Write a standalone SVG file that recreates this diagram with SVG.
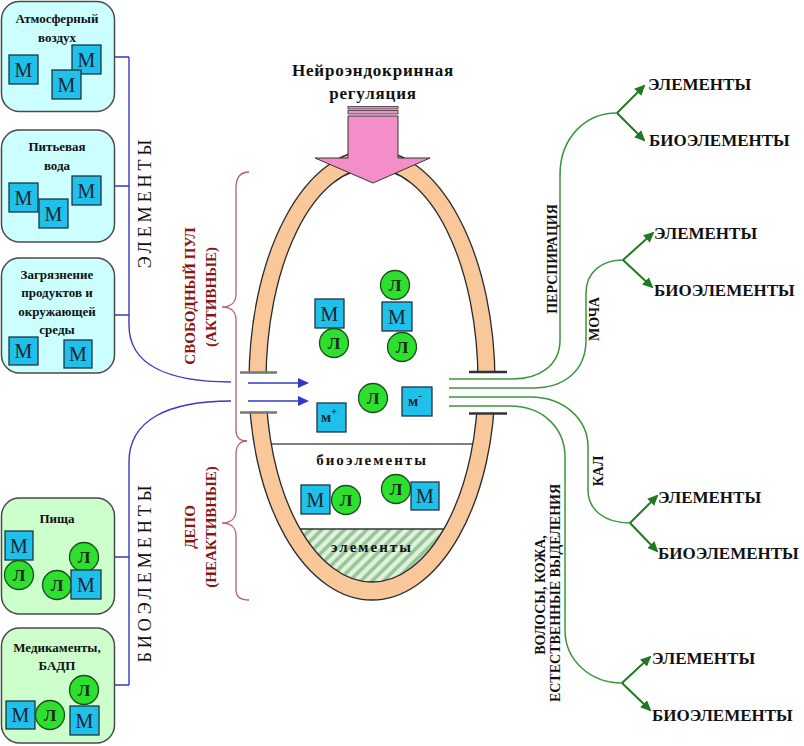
<svg xmlns="http://www.w3.org/2000/svg" width="804" height="746" viewBox="0 0 804 746">
<defs>
<style>
text{font-family:"Liberation Serif","DejaVu Serif","Noto Serif",Georgia,serif}
.box1{fill:#ccffff;stroke:#4a4a4a;stroke-width:1.5}
.box2{fill:#ccffcc;stroke:#4a4a4a;stroke-width:1.5}
.bt{font-weight:bold;font-size:13px;fill:#111;text-anchor:middle;dominant-baseline:central}
.sq{fill:#1fc0ea;stroke:#23343f;stroke-width:1.3}
.ci{fill:#2ee02e;stroke:#1d4d1d;stroke-width:1.3}
.mt{font-size:20px;fill:#1a2533;text-anchor:middle;dominant-baseline:central}
.lt{font-weight:bold;font-size:17px;fill:#1a2a1a;text-anchor:middle;dominant-baseline:central}
.blue{fill:none;stroke:#3636c8;stroke-width:1.4}
.barr{fill:none;stroke:#3636c8;stroke-width:1.6;marker-end:url(#ba)}
.green{fill:none;stroke:#3c963c;stroke-width:1.5}
.garr{fill:none;stroke:#1f7a1f;stroke-width:2;marker-end:url(#ga)}
.brace{fill:none;stroke:#b06272;stroke-width:1.3}
.red{font-weight:bold;font-size:15px;fill:#8b1414;text-anchor:middle;dominant-baseline:central}
.rl{font-weight:bold;font-size:17px;fill:#111;dominant-baseline:central}
.vl{font-size:18px;fill:#111;text-anchor:middle;dominant-baseline:central;letter-spacing:4px}
.gl{font-weight:bold;font-size:14px;fill:#111;text-anchor:middle;dominant-baseline:central}
.ct{font-weight:bold;font-size:15px;fill:#111;text-anchor:middle;dominant-baseline:central;letter-spacing:2px}
.bar{stroke-width:2.5;fill:none}
</style>
<marker id="ga" markerUnits="userSpaceOnUse" markerWidth="11" markerHeight="10" refX="9" refY="5" orient="auto">
<path d="M0,0 L11,5 L0,10 Z" fill="#1f7a1f"/>
</marker>
<marker id="ba" markerUnits="userSpaceOnUse" markerWidth="11" markerHeight="10" refX="9" refY="5" orient="auto">
<path d="M0,0 L11,5 L0,10 Z" fill="#3636c8"/>
</marker>
<pattern id="hatch" patternUnits="userSpaceOnUse" width="8" height="8" patternTransform="rotate(45)">
<rect width="8" height="8" fill="#e2f0de"/>
<line x1="2" y1="0" x2="2" y2="8" stroke="#93c493" stroke-width="3.5"/>
</pattern>
</defs>
<rect width="804" height="746" fill="#ffffff"/>

<!-- organism -->
<g id="organism">
<path d="M266,382 A106,214 0 0 1 478,382 A106,200 0 0 1 266,382 Z" fill="#ffffff"/>
<path d="M300.1,529 H443.9 A106,200 0 0 1 300.1,529 Z" fill="url(#hatch)"/>
<line x1="300" y1="529" x2="444" y2="529" stroke="#333" stroke-width="1.3"/>
<line x1="271" y1="444" x2="473" y2="444" stroke="#555" stroke-width="1.3"/>
<path d="M249,382 A123,232 0 0 1 495,382 A123,218 0 0 1 249,382 Z M266,382 A106,214 0 0 1 478,382 A106,200 0 0 1 266,382 Z" fill="#f8c89a" fill-rule="evenodd" stroke="#2a2a2a" stroke-width="1.3"/>
<rect x="242" y="373.5" width="34" height="38" fill="#ffffff"/>
<rect x="470" y="373" width="34" height="40" fill="#ffffff"/>
<line class="bar" x1="240" y1="372.5" x2="277" y2="372.5" stroke="#777"/>
<line class="bar" x1="240" y1="412.5" x2="277" y2="412.5" stroke="#777"/>
<line class="bar" x1="469" y1="372" x2="507" y2="372" stroke="#333"/>
<line class="bar" x1="469" y1="413.5" x2="507" y2="413.5" stroke="#333"/>
<text class="ct" x="372" y="460">биоэлементы</text>
<text class="ct" x="372" y="547">элементы</text>
</g>

<!-- connectors -->
<g id="connectors">
<path class="blue" d="M115,57 H129 M115,186 H129 M115,315 H129 M129,57 V325 C129,365 168,382 231,382"/>
<path class="blue" d="M115,557 H129 M115,685 H129 M129,685 V462 C129,420 168,401 231,401"/>
<path class="barr" d="M248,383 H307"/>
<path class="barr" d="M248,401 H307"/>
<path class="green" d="M449,379 H512 C540,379 560,365 560,340 V175 C560,138 585,113 617,113"/>
<path class="green" d="M449,388 H533 C565,388 586,370 586,340 V293 C586,272 602,260 623,260"/>
<path class="green" d="M449,397 H530 C565,397 588,420 588,447 V490 C588,510 605,523 630,523"/>
<path class="green" d="M449,406 H510 C545,406 565,430 565,457 V630 C565,660 590,683 622,683"/>
<path class="garr" d="M617,113 L644,86"/>
<path class="garr" d="M617,113 L644,140"/>
<path class="garr" d="M623,260 L653,233"/>
<path class="garr" d="M623,260 L652,287"/>
<path class="garr" d="M630,523 L657,496"/>
<path class="garr" d="M630,523 L657,551"/>
<path class="garr" d="M622,683 L650,657"/>
<path class="garr" d="M622,683 L650,710"/>
</g>

<!-- source boxes -->
<g id="box-air">
<rect class="box1" x="1.5" y="1.5" width="113" height="110" rx="18"/>
<text class="bt" x="57" y="18">Атмосферный</text>
<text class="bt" x="57" y="37">воздух</text>
<rect class="sq" x="9" y="55" width="29" height="29"/><text class="mt" x="23.5" y="70">М</text>
<rect class="sq" x="72" y="45" width="29" height="29"/><text class="mt" x="86.5" y="60">М</text>
<rect class="sq" x="52" y="70" width="29" height="29"/><text class="mt" x="66.5" y="85">М</text>
</g>
<g id="box-water">
<rect class="box1" x="1.5" y="130" width="113" height="112" rx="18"/>
<text class="bt" x="57" y="146">Питьевая</text>
<text class="bt" x="57" y="165">вода</text>
<rect class="sq" x="9" y="183" width="29" height="29"/><text class="mt" x="23.5" y="198">М</text>
<rect class="sq" x="39" y="199" width="29" height="29"/><text class="mt" x="53.5" y="214">М</text>
<rect class="sq" x="72" y="176" width="29" height="29"/><text class="mt" x="86.5" y="191">М</text>
</g>
<g id="box-pollution">
<rect class="box1" x="1.5" y="258" width="113" height="115" rx="18"/>
<text class="bt" x="57" y="274">Загрязнение</text>
<text class="bt" x="57" y="292">продуктов и</text>
<text class="bt" x="57" y="311">окружающей</text>
<text class="bt" x="57" y="329">среды</text>
<rect class="sq" x="9" y="337" width="29" height="28"/><text class="mt" x="23.5" y="351">М</text>
<rect class="sq" x="64" y="340" width="28" height="28"/><text class="mt" x="78" y="354">М</text>
</g>
<g id="box-food">
<rect class="box2" x="1.5" y="498" width="113" height="116" rx="18"/>
<text class="bt" x="57" y="518">Пища</text>
<rect class="sq" x="5" y="531" width="28" height="29"/><text class="mt" x="19" y="546">М</text>
<circle class="ci" cx="19" cy="575" r="14.5"/><text class="lt" x="19" y="575">Л</text>
<circle class="ci" cx="84" cy="557" r="14.5"/><text class="lt" x="84" y="557">Л</text>
<circle class="ci" cx="57" cy="585" r="14.5"/><text class="lt" x="57" y="585">Л</text>
<rect class="sq" x="71" y="570" width="30" height="29"/><text class="mt" x="86" y="585">М</text>
</g>
<g id="box-drugs">
<rect class="box2" x="1.5" y="628" width="113" height="115" rx="18"/>
<text class="bt" x="57" y="647">Медикаменты,</text>
<text class="bt" x="57" y="665">БАДП</text>
<rect class="sq" x="6" y="701" width="29" height="28"/><text class="mt" x="20.5" y="715">М</text>
<circle class="ci" cx="50" cy="715" r="14.5"/><text class="lt" x="50" y="715">Л</text>
<circle class="ci" cx="84" cy="690" r="14.5"/><text class="lt" x="84" y="690">Л</text>
<rect class="sq" x="70" y="706" width="29" height="29"/><text class="mt" x="84.5" y="721">М</text>
</g>

<!-- vertical labels -->
<g id="label-elements">
<text class="vl" transform="translate(145,202) rotate(-90)">ЭЛЕМЕНТЫ</text>
</g>
<g id="label-bioelements">
<text class="vl" transform="translate(145,572) rotate(-90)">БИОЭЛЕМЕНТЫ</text>
</g>

<!-- braces -->
<g id="brace-free">
<path class="brace" d="M249,172 C240,172 236,178 236,188 V294 C236,302 231,307 222,307 C231,307 236,312 236,320 V430 C236,437 240,441 247,441"/>
<text class="red" transform="translate(190,296) rotate(-90)">СВОБОДНЫЙ ПУЛ</text>
<text class="red" transform="translate(211,297) rotate(-90)">(АКТИВНЫЕ)</text>
</g>
<g id="brace-depot">
<path class="brace" d="M247,441 C240,441 236,446 236,454 V510 C236,518 231,523 222,523 C231,523 236,528 236,536 V590 C236,596 240,600 249,600"/>
<text class="red" transform="translate(190,527) rotate(-90)">ДЕПО</text>
<text class="red" transform="translate(211,527) rotate(-90)">(НЕАКТИВНЫЕ)</text>
</g>

<g id="regulation">
<text x="373" y="70" font-weight="bold" font-size="17" fill="#111" text-anchor="middle" dominant-baseline="central" letter-spacing="0.8">Нейроэндокринная</text>
<text x="373" y="93" font-weight="bold" font-size="17" fill="#111" text-anchor="middle" dominant-baseline="central" letter-spacing="0.8">регуляция</text>
<rect x="348" y="106.5" width="50" height="2.5" fill="#f48ec8" stroke="#333" stroke-width="0.8"/>
<rect x="348" y="110.5" width="50" height="3.5" fill="#f48ec8" stroke="#333" stroke-width="0.8"/>
<path d="M348,116 H398 V158 H430 L373,183 L315,158 H348 Z" fill="#f48ec8" stroke="#333" stroke-width="1"/>
</g>

<!-- free pool particles -->
<g id="free-pool">
<rect class="sq" x="315" y="299" width="29" height="29"/><text class="mt" x="329.5" y="314">М</text>
<circle class="ci" cx="334" cy="343" r="14.5"/><text class="lt" x="334" y="343">Л</text>
<circle class="ci" cx="395" cy="285" r="14.5"/><text class="lt" x="395" y="285">Л</text>
<rect class="sq" x="382" y="302" width="30" height="29"/><text class="mt" x="397" y="317">М</text>
<circle class="ci" cx="402" cy="347" r="14.5"/><text class="lt" x="402" y="347">Л</text>
<circle class="ci" cx="373" cy="398" r="14.5"/><text class="lt" x="373" y="398">Л</text>
<rect class="sq" x="317" y="403" width="29" height="29"/>
<text x="329" y="422" font-weight="bold" font-size="15" fill="#1a2533" text-anchor="middle">м<tspan font-size="10" dy="-7">+</tspan></text>
<rect class="sq" x="402" y="387" width="30" height="29"/>
<text x="415" y="406" font-weight="bold" font-size="15" fill="#1a2533" text-anchor="middle">м<tspan font-size="11" dy="-7">-</tspan></text>
</g>

<!-- depot particles -->
<g id="depot">
<rect class="sq" x="301" y="485" width="29" height="29"/><text class="mt" x="315.5" y="500">М</text>
<circle class="ci" cx="346" cy="500" r="14.5"/><text class="lt" x="346" y="500">Л</text>
<circle class="ci" cx="396" cy="489" r="14.5"/><text class="lt" x="396" y="489">Л</text>
<rect class="sq" x="411" y="482" width="28" height="28"/><text class="mt" x="425" y="496">М</text>
</g>

<!-- excretion labels -->
<g id="out-perspiration">
<text class="gl" transform="translate(552,259) rotate(-90)">ПЕРСПИРАЦИЯ</text>
<text class="rl" x="648" y="84">ЭЛЕМЕНТЫ</text>
<text class="rl" x="649" y="140">БИОЭЛЕМЕНТЫ</text>
</g>
<g id="out-urine">
<text class="gl" transform="translate(594,319) rotate(-90)">МОЧА</text>
<text class="rl" x="654" y="233">ЭЛЕМЕНТЫ</text>
<text class="rl" x="654" y="290">БИОЭЛЕМЕНТЫ</text>
</g>
<g id="out-feces">
<text class="gl" transform="translate(598,471) rotate(-90)">КАЛ</text>
<text class="rl" x="658" y="497">ЭЛЕМЕНТЫ</text>
<text class="rl" x="658" y="553">БИОЭЛЕМЕНТЫ</text>
</g>
<g id="out-hair">
<text class="gl" transform="translate(540,595) rotate(-90)">ВОЛОСЫ, КОЖА,</text>
<text class="gl" transform="translate(555,593) rotate(-90)">ЕСТЕСТВЕННЫЕ ВЫДЕЛЕНИЯ</text>
<text class="rl" x="652" y="658">ЭЛЕМЕНТЫ</text>
<text class="rl" x="652" y="715">БИОЭЛЕМЕНТЫ</text>
</g>
</svg>
